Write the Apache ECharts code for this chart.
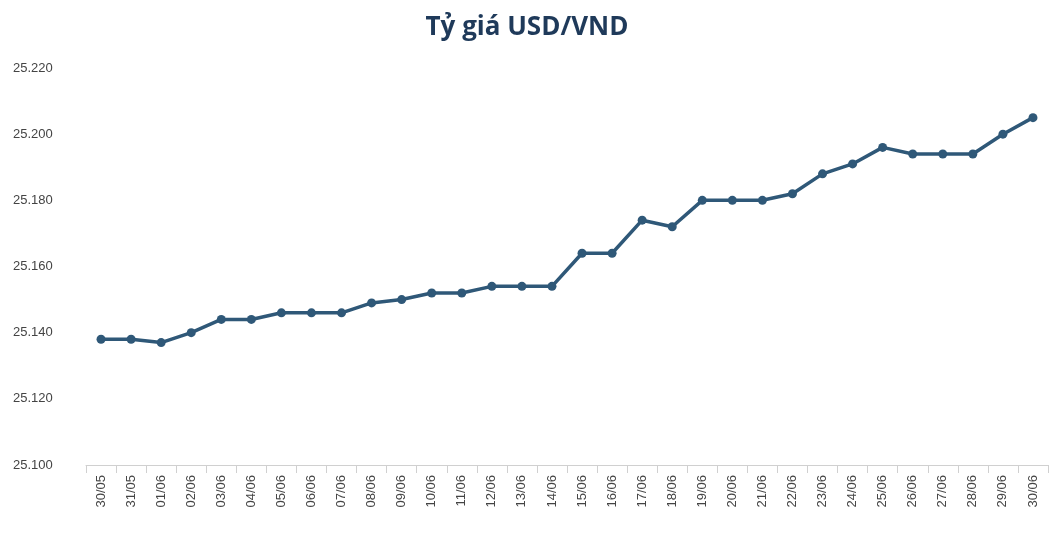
<!DOCTYPE html>
<html><head><meta charset="utf-8">
<script src="https://cdn.jsdelivr.net/npm/echarts@6/dist/echarts.min.js"></script>
<style>html,body{margin:0;padding:0;background:#fff}#c{width:1054px;height:538px}</style>
</head><body><div id="c"></div>
<script>
const categories = ["30/05","31/05","01/06","02/06","03/06","04/06","05/06","06/06","07/06","08/06","09/06","10/06","11/06","12/06","13/06","14/06","15/06","16/06","17/06","18/06","19/06","20/06","21/06","22/06","23/06","24/06","25/06","26/06","27/06","28/06","29/06","30/06"];
const rates = [25138,25138,25137,25140,25144,25144,25146,25146,25146,25149,25150,25152,25152,25154,25154,25154,25164,25164,25174,25172,25180,25180,25180,25182,25188,25191,25196,25194,25194,25194,25200,25205];
const chart = echarts.init(document.getElementById('c'));
chart.setOption({
  animation:false,
  title:{text:'Tỷ giá USD/VND',left:'center',top:10,textStyle:{fontFamily:'Open Sans',fontWeight:'bold',fontSize:26,color:'#1F3A5A'}},
  grid:{left:86,right:6,top:68,bottom:73},
  xAxis:{type:'category',data:categories,boundaryGap:true,
    axisLine:{lineStyle:{color:'#d0d0d0'}},axisTick:{show:true,lineStyle:{color:'#d0d0d0'},length:8},
    axisLabel:{rotate:90,color:'#444',fontFamily:'Liberation Sans',fontSize:13,margin:10}},
  yAxis:{type:'value',min:25100,max:25220,interval:20,splitLine:{show:false},
    axisLabel:{color:'#444',fontFamily:'Liberation Sans',fontSize:13,align:'left',margin:73,
      formatter:v=>String(v).replace(/(\d\d)(\d\d\d)$/,'$1.$2')}},
  series:[{type:'line',data:rates,symbol:'circle',symbolSize:9,
    lineStyle:{color:'#2F5878',width:3.5},itemStyle:{color:'#2F5878'}}]
});
</script></body></html>
